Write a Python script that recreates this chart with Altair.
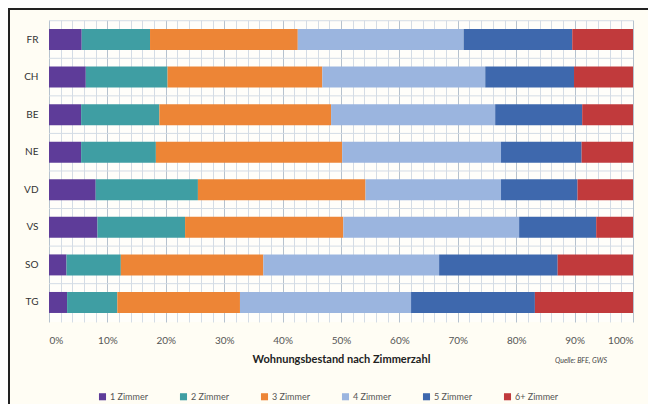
import altair as alt
import pandas as pd

regions = ["FR", "CH", "BE", "NE", "VD", "VS", "SO", "TG"]
categories = ["1 Zimmer", "2 Zimmer", "3 Zimmer", "4 Zimmer", "5 Zimmer", "6+ Zimmer"]
colors = ["#5e3c99", "#3f9ea3", "#ed8536", "#9bb5df", "#3e68ad", "#c13a3c"]

z1 = [5.6, 6.3, 5.5, 5.5, 8.0, 8.3, 3.0, 3.1]
z2 = [11.7, 14.0, 13.4, 12.8, 17.5, 15.0, 9.3, 8.6]
z3 = [25.3, 26.5, 29.4, 31.9, 28.7, 27.1, 24.4, 21.0]
z4 = [28.4, 27.9, 28.1, 27.2, 23.2, 30.1, 30.1, 29.3]
z5 = [18.6, 15.2, 14.9, 13.8, 13.1, 13.2, 20.3, 21.2]
z6 = [10.4, 10.1, 8.7, 8.8, 9.5, 6.3, 12.9, 16.8]
series = [z1, z2, z3, z4, z5, z6]

x_ticks = list(range(0, 101, 2))

rows = []
for ci, (cat, vals) in enumerate(zip(categories, series)):
    for r, v in zip(regions, vals):
        rows.append({"Kanton": r, "Kategorie": cat, "idx": ci, "Anteil": v})
df = pd.DataFrame(rows)

FONT = "Lato"

bars = alt.Chart(df).mark_bar(size=21).encode(
    x=alt.X("Anteil:Q", stack="zero",
            scale=alt.Scale(domain=[0, 100], nice=False),
            axis=alt.Axis(values=x_ticks,
                          labelExpr="datum.value % 10 == 0 ? datum.value + '%' : ''",
                          title="Wohnungsbestand nach Zimmerzahl",
                          titleFont=FONT, titleFontSize=11, titleFontWeight="bold",
                          titleColor="#222", titlePadding=8,
                          labelFont=FONT, labelFontSize=10, labelColor="#555",
                          labelPadding=13, ticks=False, domain=False,
                          grid=True,
                          gridColor={"condition": {"test": "datum.value % 10 == 0", "value": "#b6c2ce"},
                                     "value": "#d4dce5"},
                          gridWidth=1)),
    y=alt.Y("Kanton:N", sort=regions,
            scale=alt.Scale(paddingInner=0.44, paddingOuter=0.24),
            axis=alt.Axis(title=None, ticks=False, domain=False, labelFont=FONT,
                          labelFontSize=10, labelColor="#333", labelPadding=11)),
    color=alt.Color("Kategorie:N", sort=categories,
                    scale=alt.Scale(domain=categories, range=colors),
                    legend=alt.Legend(title=None, orient="none", direction="horizontal",
                                      legendX=49, legendY=372, symbolType="square",
                                      symbolSize=50, symbolStrokeWidth=0,
                                      labelFont=FONT, labelFontSize=9, labelColor="#555",
                                      columnPadding=31, symbolOffset=0, labelOffset=3)),
    order=alt.Order("idx:Q"),
)

hlines = alt.Chart(pd.DataFrame({"Kanton": regions})).mark_rule(
    color="#d4dce5", strokeWidth=1, yOffset=-18.8
).encode(y=alt.Y("Kanton:N", sort=regions))

source = alt.Chart(alt.Data(values=[{"t": "Quelle: BFE, GWS"}])).mark_text(
    font=FONT, fontSize=7, fontStyle="italic", color="#444", align="right", baseline="middle"
).encode(x=alt.value(558), y=alt.value(341), text="t:N")

border = alt.Chart(alt.Data(values=[{"a": 1}])).mark_rect(
    fill=None, stroke="#222", strokeWidth=2, clip=False
).encode(x=alt.value(-40), x2=alt.value(700), y=alt.value(-11), y2=alt.value(500))

chart = alt.layer(hlines, bars, source, border).properties(
    width=584, height=302,
    autosize=alt.AutoSizeParams(type="none"),
    padding={"left": 41, "top": 12, "right": 15, "bottom": 82},
    background="#fffdf4",
).configure_view(stroke=None, fill="#fffefa")

chart.save("out.html", embed_options={"renderer": "svg", "actions": False})
